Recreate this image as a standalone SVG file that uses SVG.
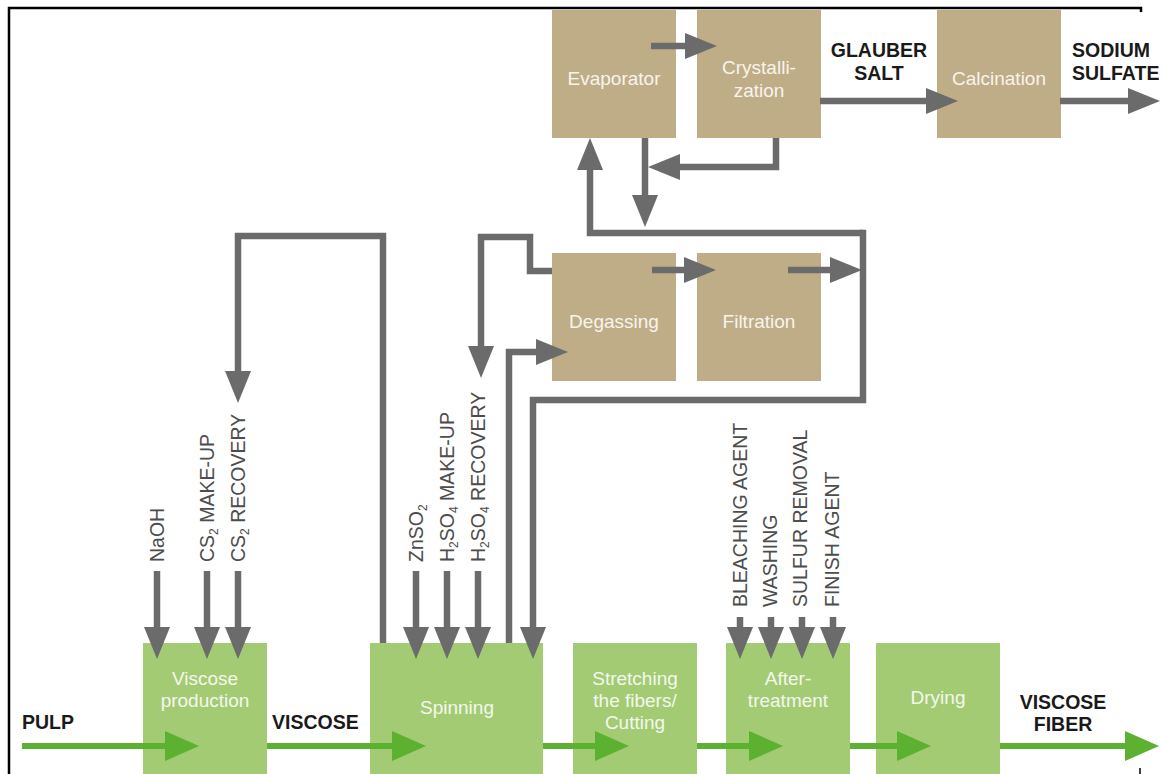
<svg xmlns="http://www.w3.org/2000/svg" width="1162" height="774" viewBox="0 0 1162 774">
<style>
.tan{fill:#bfad88}
.grn{fill:#a3cb74}
.tt{font-family:"Liberation Sans",Arial,sans-serif;font-size:19px;fill:#f8f4ec;text-anchor:middle}
.gt{font-family:"Liberation Sans",Arial,sans-serif;font-size:19px;fill:#f3f8ec;text-anchor:middle}
.bl{font-family:"Liberation Sans",Arial,sans-serif;font-size:19.5px;font-weight:bold;fill:#1a1a1a}
.rl{font-family:"Liberation Sans",Arial,sans-serif;font-size:19.5px;fill:#4d4d4d}
.sub{font-size:12px}
.gc{fill:none;stroke:#6b6b6b;stroke-width:6.5;marker-end:url(#ga)}
.gl{fill:none;stroke:#6b6b6b;stroke-width:6.5}
.fc{fill:none;stroke:#5db130;stroke-width:6;marker-end:url(#fa)}
</style>
<defs>
<marker id="ga" markerUnits="userSpaceOnUse" markerWidth="32" markerHeight="26" viewBox="0 0 32 26" refX="0" refY="13" orient="auto"><path d="M0,0 L32,13 L0,26 z" fill="#6b6b6b"/></marker>
<marker id="fa" markerUnits="userSpaceOnUse" markerWidth="34" markerHeight="30" viewBox="0 0 34 30" refX="0" refY="15" orient="auto"><path d="M0,0 L34,15 L0,30 z" fill="#5db130"/></marker>
</defs>
<rect width="1162" height="774" fill="#ffffff"/>
<g id="frame" fill="none" stroke="#000" stroke-width="2.5">
<path d="M9,774 V8 H1141 V12"/>
<path d="M1140,768 V774" stroke-width="1.5"/>
</g>

<g id="n-evaporator"><rect class="tan" x="552" y="10" width="124" height="128"/><text class="tt" x="614" y="85">Evaporator</text></g>
<g id="n-crystallization"><rect class="tan" x="697" y="10" width="124" height="128"/><text class="tt" x="759" y="74">Crystalli-</text><text class="tt" x="759" y="97">zation</text></g>
<g id="n-calcination"><rect class="tan" x="937" y="10" width="124" height="128"/><text class="tt" x="999" y="85">Calcination</text></g>
<g id="n-degassing"><rect class="tan" x="552" y="253" width="124" height="128"/><text class="tt" x="614" y="328">Degassing</text></g>
<g id="n-filtration"><rect class="tan" x="697" y="253" width="124" height="128"/><text class="tt" x="759" y="328">Filtration</text></g>

<g id="n-viscose-production"><rect class="grn" x="143" y="643" width="124" height="131"/><text class="gt" x="205" y="685">Viscose</text><text class="gt" x="205" y="707">production</text></g>
<g id="n-spinning"><rect class="grn" x="370" y="643" width="173" height="131"/><text class="gt" x="457" y="714">Spinning</text></g>
<g id="n-stretching"><rect class="grn" x="573" y="643" width="124" height="131"/><text class="gt" x="635" y="685">Stretching</text><text class="gt" x="635" y="707">the fibers/</text><text class="gt" x="635" y="729">Cutting</text></g>
<g id="n-aftertreatment"><rect class="grn" x="726" y="643" width="124" height="131"/><text class="gt" x="788" y="685">After-</text><text class="gt" x="788" y="707">treatment</text></g>
<g id="n-drying"><rect class="grn" x="876" y="643" width="124" height="131"/><text class="gt" x="938" y="704">Drying</text></g>

<g id="connectors">
<path class="fc" d="M22,746 H165"/>
<path class="fc" d="M267,746 H392"/>
<path class="fc" d="M543,746 H595"/>
<path class="fc" d="M697,746 H749"/>
<path class="fc" d="M850,746 H897"/>
<path class="fc" d="M1000,746 H1125"/>

<path class="gc" d="M157,571 V627"/>
<path class="gc" d="M207,571 V627"/>
<path class="gc" d="M238,571 V627"/>
<path class="gc" d="M383,643 V236 H238 V371"/>
<path class="gc" d="M416,571 V627"/>
<path class="gc" d="M447,571 V627"/>
<path class="gc" d="M478,571 V627"/>
<path class="gc" d="M552,271 H530 V237 H481 V346"/>
<path class="gc" d="M509,643 V352 H536"/>
<path class="gc" d="M863,233 H590 V170"/>
<path class="gc" d="M863,229.75 V400 H533 V627"/>
<path class="gc" d="M788,270 H830"/>
<path class="gc" d="M652,270 H684"/>
<path class="gc" d="M651,46 H685"/>
<path class="gc" d="M776,138 V167 H680"/>
<path class="gc" d="M645,138 V195"/>
<path class="gc" d="M820,101 H926"/>
<path class="gc" d="M1060,101 H1128"/>
<path class="gc" d="M740,617 V627"/>
<path class="gc" d="M771,617 V627"/>
<path class="gc" d="M802,617 V627"/>
<path class="gc" d="M833,617 V627"/>
</g>

<g id="labels">
<text class="bl" x="22" y="729">PULP</text>
<text class="bl" x="272" y="729">VISCOSE</text>
<text class="bl" x="1063" y="709" text-anchor="middle">VISCOSE</text>
<text class="bl" x="1063" y="731" text-anchor="middle">FIBER</text>
<text class="bl" x="879" y="57" text-anchor="middle">GLAUBER</text>
<text class="bl" x="879" y="80" text-anchor="middle">SALT</text>
<text class="bl" x="1072" y="57">SODIUM</text>
<text class="bl" x="1072" y="80">SULFATE</text>

<text class="rl" transform="translate(164,562) rotate(-90)">NaOH</text>
<text class="rl" transform="translate(214,562) rotate(-90)">CS<tspan class="sub" dy="4">2</tspan><tspan dy="-4"> MAKE-UP</tspan></text>
<text class="rl" transform="translate(245,562) rotate(-90)">CS<tspan class="sub" dy="4">2</tspan><tspan dy="-4"> RECOVERY</tspan></text>
<text class="rl" transform="translate(423,562) rotate(-90)">ZnSO<tspan class="sub" dy="4">2</tspan></text>
<text class="rl" transform="translate(454,562) rotate(-90)">H<tspan class="sub" dy="4">2</tspan><tspan dy="-4">SO</tspan><tspan class="sub" dy="4">4</tspan><tspan dy="-4"> MAKE-UP</tspan></text>
<text class="rl" transform="translate(485,562) rotate(-90)">H<tspan class="sub" dy="4">2</tspan><tspan dy="-4">SO</tspan><tspan class="sub" dy="4">4</tspan><tspan dy="-4"> RECOVERY</tspan></text>
<text class="rl" transform="translate(747,607) rotate(-90)">BLEACHING AGENT</text>
<text class="rl" transform="translate(777,607) rotate(-90)">WASHING</text>
<text class="rl" transform="translate(807,607) rotate(-90)">SULFUR REMOVAL</text>
<text class="rl" transform="translate(839,607) rotate(-90)">FINISH AGENT</text>
</g>
</svg>
